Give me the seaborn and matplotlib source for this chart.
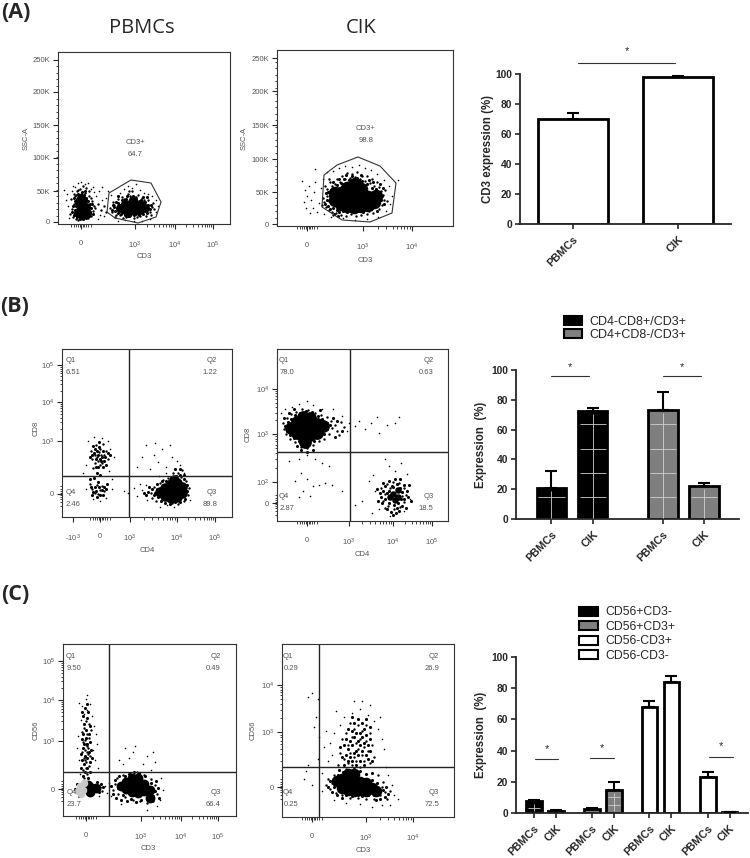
import numpy as np
import pandas as pd
import matplotlib
matplotlib.use("Agg")
import matplotlib.pyplot as plt
from matplotlib.patches import Patch, Polygon
import seaborn as sns

# bar chart values
cd3_labels = ["PBMCs", "CIK"]
cd3_values = [70, 98]
cd3_upper = [74, 99]

subset_labels = ["PBMCs", "CIK", "PBMCs", "CIK"]
subset_series = ["CD4-CD8+/CD3+", "CD4-CD8+/CD3+", "CD4+CD8-/CD3+", "CD4+CD8-/CD3+"]
subset_values = [21, 72.5, 73, 22]
subset_upper = [32, 74.5, 85, 24]

nk_labels = ["PBMCs", "CIK"] * 4
nk_series = ["CD56+CD3-"] * 2 + ["CD56+CD3+"] * 2 + ["CD56-CD3+"] * 2 + ["CD56-CD3-"] * 2
nk_values = [7.5, 1.3, 2.3, 15, 68, 84, 23, 0.5]
nk_upper = [8.5, 1.8, 3.2, 20, 72, 88, 26.5, 0.8]

# flow cytometry events in channel units
a1_core = [(22,14),(26,12),(24,18),(28,17),(21,21),(25,24),(20,11),(24,9),(29,11),(23,26),
           (62,16),(67,14),(67,20),(72,14),(72,20),(77,13),(77,20),(82,14),(82,20),(87,16),(75,24),(70,11)]
a1_fill = [(14,12),(16,9),(17,14),(15,18),(18,18),(17,23),(19,25),(21,27),(23,29),(26,29),(28,26),(30,23),(32,20),(33,16),(32,12),(31,8),(28,6),(25,5),(22,5),(19,7),(20,30),(24,32),(27,33),(16,26),(35,10),(34,20),
           (54,14),(56,17),(57,13),(55,19),(58,22),(60,11),(60,21),(63,10),(64,24),(67,9),(68,25),(71,8),(73,26),(76,9),(78,25),(81,9),(83,24),(85,10),(87,22),(89,11),(90,19),(92,15),(93,19),(85,27),(69,28),(75,28),(60,28),(89,27)]
a1_halo = [(12,10),(14,15),(16,20),(13,25),(15,7),(18,5),(20,4),(17,28),(33,8),(35,13),(36,18),(34,23),(31,28),(30,6),
           (37,16),(16,30),(19,33),(22,35),(25,38),(28,36),(31,33),(27,31),(23,30),(20,34),(18,29),(33,26),(40,20),(43,14),
           (46,18),(48,12),(52,16),(54,12),(56,19),(58,9),(55,22),(57,7),(60,25),(92,12),(94,17),(95,21),(93,9),(90,24),
           (96,15),(88,8),(64,27),(68,7),(72,28),(76,6),(80,29),(84,26),(66,25),(70,30),(74,33),(78,27),(82,8),(86,24),(62,9),(65,6),(71,33),(79,7)]
a1_sparse = [(8,24),(10,18),(9,30),(11,6),(14,33),(15,38),(17,37),(20,41),(23,42),(27,40),(30,41),(33,35),(36,32),(38,28),
             (41,33),(44,24),(46,8),(42,9),(48,26),(50,33),(40,5),(53,29),(62,31),(66,35),(70,38),(74,36),(78,40),(82,34),(86,31),(90,30),
             (94,28),(98,24),(100,18),(98,12),(92,5),(84,3),(76,3),(67,4),(60,3),(6,34),(44,37),(35,37)]
a2_core = [(58,26),(64,22),(64,33),(70,20),(70,30),(70,38),(77,19),(77,28),(77,37),(84,20),(84,29),(84,37),(91,21),(91,29),(97,24),(99,30),(58,33),(78,42)]
a2_fill = [(48,22),(50,26),(51,20),(53,17),(53,30),(55,24),(55,33),(56,18),(57,38),(60,16),(60,41),(62,14),(64,43),(66,15),(67,47),(70,14),(72,46),(74,15),(75,50),(78,14),(80,48),(82,15),(85,45),(86,14),(90,42),(90,16),
           (94,17),(95,38),(97,19),(99,37),(101,22),(102,33),(104,26),(105,30),(107,22),(57,12),(61,10),(51,34),(49,33),(69,51),(84,51),(92,46),(96,44),(103,42),(106,38),(100,15),(62,47),(56,44)]
a2_halo = [(47,24),(49,19),(50,30),(52,16),(54,36),(55,14),(52,25),(46,28),(59,13),(64,11),(69,10),(74,12),(79,10),(84,11),(90,12),(96,13),
           (102,17),(105,21),(107,26),(106,31),(104,35),(102,39),(97,40),(93,43),(88,45),(83,47),(78,49),(73,48),(68,47),(63,44),(58,42),(55,40),(50,37),
           (110,25),(108,36),(100,44),(95,47),(85,50),(75,52),(65,50),(60,47),(53,44),(48,40),(52,47),(70,53),(80,54),(90,50),(92,15),(56,11),(45,21)]
a2_sparse = [(30,30),(28,36),(27,24),(32,40),(34,26),(36,18),(37,34),(40,14),(42,23),(44,38),(38,44),(33,13),(46,47),(50,54),(56,55),(62,58),
             (68,60),(75,59),(82,61),(88,58),(94,56),(100,52),(107,46),(112,40),(115,30),(113,22),(109,15),(101,9),(90,7),(78,6),(66,8),(54,9),(47,12),(25,45),(38,57),(29,18),(121,46)]
b1_core = [(98,25),(103,21),(103,29),(109,19),(109,26),(109,33),(115,20),(115,27),(115,34),(120,24),(120,30),(112,37)]
b1_fill = [(36,62),(40,60),(34,58),(32,64),(37,70),(41,66),(43,60),(35,66),(38,58),(30,62),(33,68),(39,56),(36,50),(42,56),(46,64),(34,50),(44,52),(37,75),(31,71),(28,60),(48,62),(41,50),(35,44),(32,39),(38,42),(36,35),(33,30),(37,30),(40,27),(34,26),(31,25),(38,22),(42,30),(29,30),(44,28),(35,20),(41,22),(30,22),(45,33),(28,38),
           (93,24),(95,28),(96,20),(95,33),(99,16),(103,14),(108,13),(113,15),(118,15),(123,18),(125,26),(125,32),(122,38),(118,42),(114,41),(110,39),(104,36),(100,36),(92,22),(90,28),(86,25),(84,22),(87,30),(82,24),(118,48),(113,48),(122,42)]
b1_halo = [(33,62),(38,68),(42,62),(36,56),(40,54),(30,58),(44,66),(34,72),(38,52),(29,66),(46,58),(41,73),(35,60),(39,62),(37,65),(33,54),(31,49),
           (30,28),(35,32),(38,27),(33,24),(40,31),(36,23),(28,33),(42,26),(89,24),(92,30),(90,19),(94,16),(98,34),(101,37),(106,39),(110,14),(116,13),(122,16),(126,22),(127,29),(124,36),(119,40),(116,44),(111,44),(120,47)]
b1_sparse = [(26,76),(32,80),(40,79),(46,76),(48,68),(52,60),(24,52),(21,44),(47,46),(50,38),(44,19),(38,16),(31,18),(24,28),(50,28),(62,26),(66,24),
             (72,29),(75,21),(80,27),(84,32),(85,17),(78,33),(75,50),(80,60),(88,48),(92,62),(96,55),(100,68),(104,50),(110,60),(115,56),(108,72),(118,52),(84,72),(93,74),(97,41),(104,44),(122,44),(128,17),(105,12),(98,10),(112,10)]
b2_core = [(14,93),(20,88),(20,99),(26,85),(26,95),(26,104),(33,86),(33,95),(33,103),(40,88),(40,97),(46,95),(28,79)]
b2_q3_core = [(116,27),(121,31),(118,21),(113,24),(121,24)]
b2_fill = [(8,95),(10,90),(11,99),(13,86),(14,102),(17,83),(18,106),(22,80),(23,108),(27,76),(29,110),(32,77),(35,109),(37,80),(41,105),(42,84),(45,102),(47,87),(50,98),(50,92),(53,96),(24,71),(30,69),(36,71),(20,75),(56,103),(60,100),(58,84),(65,90),(7,103),(12,108),(17,112),(43,111),
           (104,24),(106,30),(105,18),(108,22),(108,35),(110,12),(110,28),(112,18),(112,40),(114,9),(114,24),(115,35),(117,16),(118,42),(119,8),(120,37),(121,18),(122,10),(123,33),(123,42),(125,15),(125,29),(127,22),(127,36),(129,13),(130,30),(131,24),(132,36),(112,30),(116,34),(120,13),(124,22),(106,38),(103,28),(101,20),(100,32),(134,20),(116,6)]
b2_halo = [(6,98),(7,92),(9,87),(10,103),(14,107),(19,109),(25,112),(31,111),(38,108),(44,106),(50,104),(54,100),(55,93),(52,87),(47,82),(42,80),(36,76),
           (30,73),(24,74),(18,79),(13,82),(58,96),(60,90),(64,99),(62,86),(67,94),(106,20),(108,27),(104,33),(110,37),(116,39),(122,38),(127,33),(129,26),(127,19),(123,14),(117,12),(111,15),(113,33),(125,25),(108,13)]
b2_sparse = [(4,108),(8,112),(15,114),(22,117),(30,120),(36,116),(45,112),(56,112),(65,105),(70,90),(72,98),(78,95),(82,100),(88,92),(94,98),(102,88),
             (110,96),(118,98),(122,104),(100,104),(30,66),(22,62),(38,62),(45,58),(12,60),(52,55),(24,48),(30,42),(18,40),(36,35),(26,30),(42,36),(22,24),(33,25),(48,38),(55,36),(65,30),
             (85,20),(92,40),(98,30),(102,12),(96,46),(108,62),(112,55),(118,50),(124,58),(130,47),(133,22),(127,10),(78,16),(95,8),(113,5)]
c1_core = [(29,28),(25,31),(27,24),(33,28),(58,30),(63,27),(63,34),(69,24),(69,31),(69,38),(75,23),(75,31),(75,38),(81,25),(81,32),(87,26),(87,18)]
c1_grey = [(20,26),(17,30),(15,25),(21,33),(18,22)]
c1_fill = [(20,40),(25,38),(22,44),(27,44),(18,48),(24,48),(21,52),(27,54),(19,56),(24,58),(29,58),(22,60),(18,62),(26,64),(20,68),(28,66),(24,72),(21,72),(27,74),(19,77),(23,78),(26,82),(20,82),(23,86),(27,90),(21,92),(24,98),(20,100),(25,104),(22,108),(19,104),(24,112),
           (48,30),(50,22),(52,36),(53,18),(55,28),(56,40),(58,16),(60,21),(62,40),(64,15),(66,42),(68,17),(71,44),(73,14),(76,43),(78,16),(82,40),(84,17),(88,33),(90,20),(92,25),(93,35),(95,28),(96,18),(36,24),(38,32),(40,29),(34,34),(16,20),(14,32),(12,27)]
c1_halo = [(21,38),(24,42),(20,46),(26,50),(23,54),(21,58),(25,62),(22,66),(24,70),(20,74),(26,78),(23,72),(19,64),(27,60),(23,48),(25,68),(22,76),(24,82),(21,88),(26,92),(23,95),(19,84),(28,86),
           (22,56),(24,64),(52,32),(50,26),(55,22),(54,38),(60,41),(67,43),(74,44),(81,41),(88,37),(92,31),(94,22),(90,15),(84,13),(77,15),(70,16),(62,19),(37,29),(39,25)]
c1_sparse = [(18,96),(21,102),(24,106),(27,112),(19,110),(23,117),(16,113),(29,100),(31,90),(33,82),(34,72),(15,80),(14,68),(16,56),(30,66),(32,56),(35,48),(17,42),(42,30),(44,23),(46,33),
             (60,52),(66,58),(70,64),(62,68),(72,70),(56,56),(80,52),(84,60),(90,64),(92,54),(88,46),(98,38),(100,26),(97,16),(94,10),(84,6),(58,12),(48,20),(36,20),(24,121)]
c2_core = [(55,36),(60,29),(60,38),(66,27),(66,35),(66,43),(72,26),(72,34),(72,43),(78,27),(78,35),(84,26),(84,34),(90,29),(94,26)]
c2_fill = [(62,52),(66,56),(70,56),(74,52),(78,56),(82,52),(86,58),(90,56),(60,60),(64,62),(68,60),(72,64),(76,62),(80,66),(84,62),(88,66),(58,70),(62,72),(66,68),(70,72),(74,66),(78,72),(82,74),(86,72),(64,78),(68,76),(72,80),(76,76),(80,80),(84,82),(88,78),(66,88),(70,86),(74,84),(78,84),(82,88),(72,94),(76,98),(80,94),(84,98),(88,90),(70,100),
           (46,30),(48,36),(50,25),(52,30),(52,38),(55,22),(56,42),(60,19),(61,45),(64,22),(66,47),(70,21),(72,48),(76,22),(78,46),(80,21),(84,43),(86,22),(90,37),(92,22),(95,34),(96,28),(98,18),(101,27),(103,20),(104,30),(94,17),(57,47),(90,44),(106,23)]
c2_halo = [(70,52),(74,56),(78,50),(72,60),(80,62),(76,68),(68,64),(82,70),(74,74),(78,78),(70,80),(84,76),(86,66),(66,72),(62,58),(58,64),(64,84),(72,88),(80,86),(88,84),(76,92),(68,94),(84,92),(90,72),
           (60,78),(66,54),(82,56),(88,54),(56,52),(92,60),(50,34),(48,28),(52,42),(46,38),(100,30),(103,25),(101,35),(98,22),(108,26),(105,18),(92,18),(84,18),(76,19),(68,19),(60,22),(54,24),(96,42),(44,32),(74,46),(64,48)]
c2_sparse = [(62,100),(70,104),(78,108),(86,102),(92,96),(96,88),(100,78),(102,68),(72,116),(80,116),(88,112),(58,92),(52,84),(48,74),(50,62),(46,56),(42,70),(44,86),(54,106),(40,44),(40,26),(104,50),
             (110,32),(112,22),(116,18),(108,12),(100,12),(90,10),(78,13),(64,14),(52,17),(26,52),(24,46),(22,38),(30,32),(36,58),(37,80),(34,100),(36,118),(30,124),(26,120),(32,90),(106,42),(98,100)]
# gates
a1_gate = [(51,31),(73,44),(93,41),(103,22),(98,7),(80,1),(57,6),(49,12)]
a2_gate = [(81,69),(103,60),(119,43),(115,13),(93,4),(65,6),(45,19),(47,51),(60,61)]

# axis ticks (channel position, label)
a1_xticks = [23, 77, 117, 155]
a2_xticks = [30, 86, 135]
b1_xticks = [11, 38, 68, 115, 153]
b2_xticks = [30, 72, 116, 155]
c1_xticks = [23, 78, 118, 155]
c2_xticks = [30, 84, 131]
a1_yticks = [2, 33, 66, 99, 132, 164]
a2_yticks = [2, 34, 67, 101, 135, 168]
b1_yticks = [23, 76, 115, 152]
b2_yticks = [18, 39, 87, 132]
c1_yticks = [27, 75, 116, 155]
c2_yticks = [30, 85, 132]
ssc_labels = ["0", "50K", "100K", "150K", "200K", "250K"]
dec3 = ["0", "$10^{3}$", "$10^{4}$", "$10^{5}$"]

W, H = 750, 858
TICK_GREY = "#555555"


def px_axes(fig, left, top, right, bottom):
    return fig.add_axes([left / W, 1 - bottom / H, (right - left) / W, (bottom - top) / H])


def ftext(fig, x, y, s, **kw):
    kw.setdefault("ha", "center")
    kw.setdefault("va", "center")
    fig.text(x / W, 1 - y / H, s, **kw)


def dots(ax, pts, size, color="black"):
    df = pd.DataFrame(pts, columns=["x", "y"])
    sns.scatterplot(data=df, x="x", y="y", s=size, color=color, linewidth=0, ax=ax, legend=False)
    ax.set_xlabel("")
    ax.set_ylabel("")


def minor_positions(majors):
    out = []
    for a, b in zip(majors[:-1], majors[1:]):
        out += [a + (b - a) * np.log10(k) for k in range(2, 10)]
    return out


def flow_panel(fig, box, xticks, xlabels, yticks, ylabels, layers):
    left, top, right, bottom = box
    ax = px_axes(fig, left, top, right, bottom)
    sparse, halo, fill, core, core_size = layers
    dots(ax, sparse, 1.3)
    dots(ax, halo, 3)
    dots(ax, fill, 5)
    dots(ax, core, core_size)
    ax.set_xlim(0, right - left)
    ax.set_ylim(0, bottom - top)
    ax.set_xticks(xticks, xlabels)
    ax.set_yticks(yticks, ylabels)
    zero = xticks[1] if len(xlabels) == 5 else xticks[0]
    xminor = [zero + d for d in (-10, -7, -5, -3, -1.5, 0, 1.5, 3, 5, 7, 10)]
    ax.set_xticks(xminor + minor_positions(xticks[xticks.index(zero) + 1:]), minor=True)
    if ylabels is ssc_labels:
        ax.set_yticks([yticks[0] + i * 6.5 for i in range(26)], minor=True)
    else:
        ax.set_yticks(minor_positions(yticks[-3:]) + [yticks[0] + d for d in (-12, -8, -5, -3, -1, 1, 3, 5, 8)], minor=True)
    ax.tick_params(axis="x", which="major", length=3.5, width=0.8, pad=8, labelsize=5.5, labelcolor=TICK_GREY)
    ax.tick_params(axis="y", which="major", length=3.5, width=0.8, pad=2, labelsize=5.5, labelcolor=TICK_GREY)
    ax.tick_params(which="minor", length=1.8, width=0.6)
    for sp in ax.spines.values():
        sp.set_linewidth(0.8)
        sp.set_color("#333333")
    return ax


def quadrants(fig, ax, vx, hy, texts):
    ax.axvline(vx, color="#222222", lw=1.0)
    ax.axhline(hy, color="#222222", lw=1.0)
    for x, y, s in texts:
        ftext(fig, x, y, s, fontsize=5.5, color=TICK_GREY)


def bar_axis(ax, pos, labels, upper, values, ylabel, labelpad=3):
    ax.errorbar(pos, values, yerr=[np.zeros(len(values)), np.array(upper) - np.array(values)], fmt="none",
                ecolor="black", elinewidth=1.5, capsize=4, capthick=1.5, zorder=5)
    ax.set_ylim(0, 100)
    ax.set_yticks([0, 20, 40, 60, 80, 100])
    ax.set_xticks(pos, labels, rotation=45, ha="right", rotation_mode="anchor")
    ax.set_xlabel("")
    ax.set_ylabel(ylabel, fontsize=8.3, fontweight="bold", labelpad=labelpad)
    ax.tick_params(axis="both", length=3.5, width=1.2, labelsize=7.4, pad=2)
    ax.tick_params(axis="x", labelsize=7.8, pad=4)
    for lab in ax.get_xticklabels() + ax.get_yticklabels():
        lab.set_fontweight("bold")
    for sp in ["left", "bottom"]:
        ax.spines[sp].set_linewidth(1.3)
    sns.despine(ax=ax)


def sig(ax, x0, x1, y, ystar):
    ax.plot([x0, x1], [y, y], color="#333333", lw=0.8, clip_on=False)
    ax.text((x0 + x1) / 2, ystar, "*", ha="center", va="center", fontsize=8, clip_on=False)


def main():
    sns.set_theme(style="ticks")
    plt.rcParams["font.family"] = ["Liberation Sans", "DejaVu Sans"]
    plt.rcParams["mathtext.fontset"] = "custom"
    plt.rcParams["mathtext.rm"] = "Liberation Sans"
    plt.rcParams["mathtext.default"] = "regular"

    fig = plt.figure(figsize=(7.5, 8.58), dpi=100)

    for x, y, s in [(16, 12, "(A)"), (15, 307, "(B)"), (15, 595, "(C)")]:
        ftext(fig, x, y, s, fontsize=15.5, fontweight="bold", family="Open Sans")
    ftext(fig, 142, 28, "PBMCs", fontsize=14.5, family="Open Sans")
    ftext(fig, 361, 28, "CIK", fontsize=14.5, family="Open Sans")

    # row A flow plots
    ax = flow_panel(fig, (58, 52, 230, 224), a1_xticks, dec3, a1_yticks, ssc_labels, (a1_sparse, a1_halo, a1_fill, a1_core, 42))
    ax.add_patch(Polygon(a1_gate, fill=False, ec="#333333", lw=0.8))
    ftext(fig, 135, 142, "CD3+", fontsize=5.5, color=TICK_GREY)
    ftext(fig, 135, 154, "64.7", fontsize=5.5, color=TICK_GREY)
    ftext(fig, 144, 257, "CD3", fontsize=5.5, color=TICK_GREY)
    ftext(fig, 26, 138, "SSC-A", fontsize=5.5, color=TICK_GREY, rotation=90)

    ax = flow_panel(fig, (277, 50, 453, 226), a2_xticks, dec3[:3], a2_yticks, ssc_labels, (a2_sparse, a2_halo, a2_fill, a2_core, 95))
    ax.add_patch(Polygon(a2_gate, fill=False, ec="#333333", lw=0.8))
    ftext(fig, 366, 129, "CD3+", fontsize=5.5, color=TICK_GREY)
    ftext(fig, 366, 141, "98.8", fontsize=5.5, color=TICK_GREY)
    ftext(fig, 365, 260, "CD3", fontsize=5.5, color=TICK_GREY)
    ftext(fig, 244, 138, "SSC-A", fontsize=5.5, color=TICK_GREY, rotation=90)

    # row B flow plots
    ax = flow_panel(fig, (62, 349, 232, 517), b1_xticks, ["-$10^{3}$", "0", "$10^{3}$", "$10^{4}$", "$10^{5}$"], b1_yticks,
                    ["0", "$10^{3}$", "$10^{4}$", "$10^{5}$"], (b1_sparse, b1_halo, b1_fill, b1_core, 58))
    quadrants(fig, ax, 67, 41, [(71, 360, "Q1"), (73, 372, "6.51"), (212, 360, "Q2"), (210, 372, "1.22"),
                                (71, 493, "Q4"), (73, 505, "2.46"), (212, 493, "Q3"), (210, 505, "89.8")])
    ftext(fig, 147, 550, "CD4", fontsize=5.5, color=TICK_GREY)
    ftext(fig, 36, 428, "CD8", fontsize=5.5, color=TICK_GREY, rotation=90)

    ax = flow_panel(fig, (277, 349, 448, 521), b2_xticks, dec3, b2_yticks, ["0", "$10^{2}$", "$10^{3}$", "$10^{4}$"],
                    (b2_sparse, b2_halo, b2_fill, b2_core, 85))
    dots(ax, b2_q3_core, 22)
    quadrants(fig, ax, 73, 69, [(284, 361, "Q1"), (287, 373, "78.0"), (429, 361, "Q2"), (426, 373, "0.63"),
                                (284, 497, "Q4"), (287, 509, "2.87"), (429, 497, "Q3"), (426, 509, "18.5")])
    ftext(fig, 362, 554, "CD4", fontsize=5.5, color=TICK_GREY)
    ftext(fig, 248, 434, "CD8", fontsize=5.5, color=TICK_GREY, rotation=90)

    # row C flow plots
    ax = flow_panel(fig, (63, 644, 236, 816), c1_xticks, dec3, c1_yticks, dec3, (c1_sparse, c1_halo, c1_fill, c1_core, 50))
    dots(ax, c1_grey, 30, color="#c8c8c8")
    quadrants(fig, ax, 46, 44, [(71, 656, "Q1"), (74, 668, "9.50"), (216, 656, "Q2"), (213, 668, "0.49"),
                                (72, 792, "Q4"), (74, 804, "23.7"), (216, 792, "Q3"), (213, 804, "66.4")])
    ftext(fig, 148, 849, "CD3", fontsize=5.5, color=TICK_GREY)
    ftext(fig, 36, 730, "CD56", fontsize=5.5, color=TICK_GREY, rotation=90)

    ax = flow_panel(fig, (282, 644, 454, 817), c2_xticks, dec3[:3], c2_yticks, dec3[:3], (c2_sparse, c2_halo, c2_fill, c2_core, 70))
    quadrants(fig, ax, 37, 50, [(288, 656, "Q1"), (291, 669, "0.29"), (434, 656, "Q2"), (432, 669, "26.9"),
                                (288, 793, "Q4"), (291, 805, "0.25"), (434, 793, "Q3"), (432, 805, "72.5")])
    ftext(fig, 363, 850, "CD3", fontsize=5.5, color=TICK_GREY)
    ftext(fig, 253, 730, "CD56", fontsize=5.5, color=TICK_GREY, rotation=90)

    # CD3 bars
    ax = px_axes(fig, 520, 74, 731, 224)
    df = pd.DataFrame({"cell": cd3_labels, "value": cd3_values})
    sns.barplot(data=df, x="cell", y="value", color="white", saturation=1, width=0.667, edgecolor="black", linewidth=2, ax=ax)
    bar_axis(ax, [0, 1], cd3_labels, cd3_upper, cd3_values, "CD3 expression (%)", labelpad=1)
    ax.set_xlim(-0.5, 1.5)
    sig(ax, 0.05, 0.97, 107.5, 115)

    # CD4/CD8 bars
    ax = px_axes(fig, 516, 370, 739, 519)
    pos = [0, 1, 2.7, 3.7]
    df = pd.DataFrame({"pos": pos, "value": subset_values, "series": subset_series})
    colors = {"CD4-CD8+/CD3+": "black", "CD4+CD8-/CD3+": "#7f7f7f"}
    sns.barplot(data=df, x="pos", y="value", hue="series", palette=colors, saturation=1, dodge=False, native_scale=True,
                width=0.71, edgecolor="black", linewidth=2, legend=False, ax=ax)
    bar_axis(ax, pos, subset_labels, subset_upper, subset_values, "Expression  (%)")
    ax.set_xlim(-0.86, 4.545)
    for p, v in zip(pos, subset_values):
        ax.hlines([g for g in (14.5, 31, 47, 63.5) if g < v - 2], p - 0.32, p + 0.32, color="#d0d0d0", lw=0.6, zorder=4)
        ax.vlines(p, 1, v - 2, color="#d0d0d0", lw=0.6, zorder=4)
    sig(ax, 0, 0.92, 96, 102)
    sig(ax, 2.7, 3.62, 96, 102)
    handles = [Patch(facecolor=colors[k], edgecolor="black", lw=1.5, label=k) for k in colors]
    fig.legend(handles=handles, loc="upper left", bbox_to_anchor=(561 / W, 1 - 313 / H), frameon=False, fontsize=9,
               handlelength=1.5, handleheight=0.8, labelspacing=0.1, handletextpad=0.6, borderpad=0.2, borderaxespad=0)

    # CD56 bars
    ax = px_axes(fig, 516, 657, 748, 813)
    pos = [0, 1, 2.64, 3.64, 5.25, 6.25, 7.91, 8.89]
    df = pd.DataFrame({"pos": pos, "value": nk_values, "series": nk_series})
    colors = {"CD56+CD3-": "black", "CD56+CD3+": "#7f7f7f", "CD56-CD3+": "white", "CD56-CD3-": "white"}
    sns.barplot(data=df, x="pos", y="value", hue="series", palette=colors, saturation=1, dodge=False, native_scale=True,
                width=0.72, edgecolor="black", linewidth=2, legend=False, ax=ax)
    bar_axis(ax, pos, nk_labels, nk_upper, nk_values, "Expression  (%)")
    ax.set_xlim(-0.82, 9.73)
    ax.hlines([3.5], -0.28, 0.28, color="#d0d0d0", lw=0.6, zorder=4)
    ax.vlines(0, 1, 6, color="#d0d0d0", lw=0.6, zorder=4)
    ax.hlines([5, 10], 3.36, 3.92, color="#d0d0d0", lw=0.6, zorder=4)
    ax.vlines(3.64, 1, 13, color="#d0d0d0", lw=0.6, zorder=4)
    sig(ax, 0.05, 1.1, 34.5, 41)
    sig(ax, 2.55, 3.65, 35, 41.5)
    sig(ax, 7.95, 9.05, 36, 43)
    handles = [Patch(facecolor=colors[k], edgecolor="black", lw=1.5, label=k) for k in colors]
    fig.legend(handles=handles, loc="upper left", bbox_to_anchor=(577 / W, 1 - 604 / H), frameon=False, fontsize=8.8,
               handlelength=1.5, handleheight=0.75, labelspacing=0.2, handletextpad=0.6, borderpad=0.2, borderaxespad=0)

    fig.savefig("out.png", dpi=100)
    plt.close(fig)


if __name__ == "__main__":
    main()
